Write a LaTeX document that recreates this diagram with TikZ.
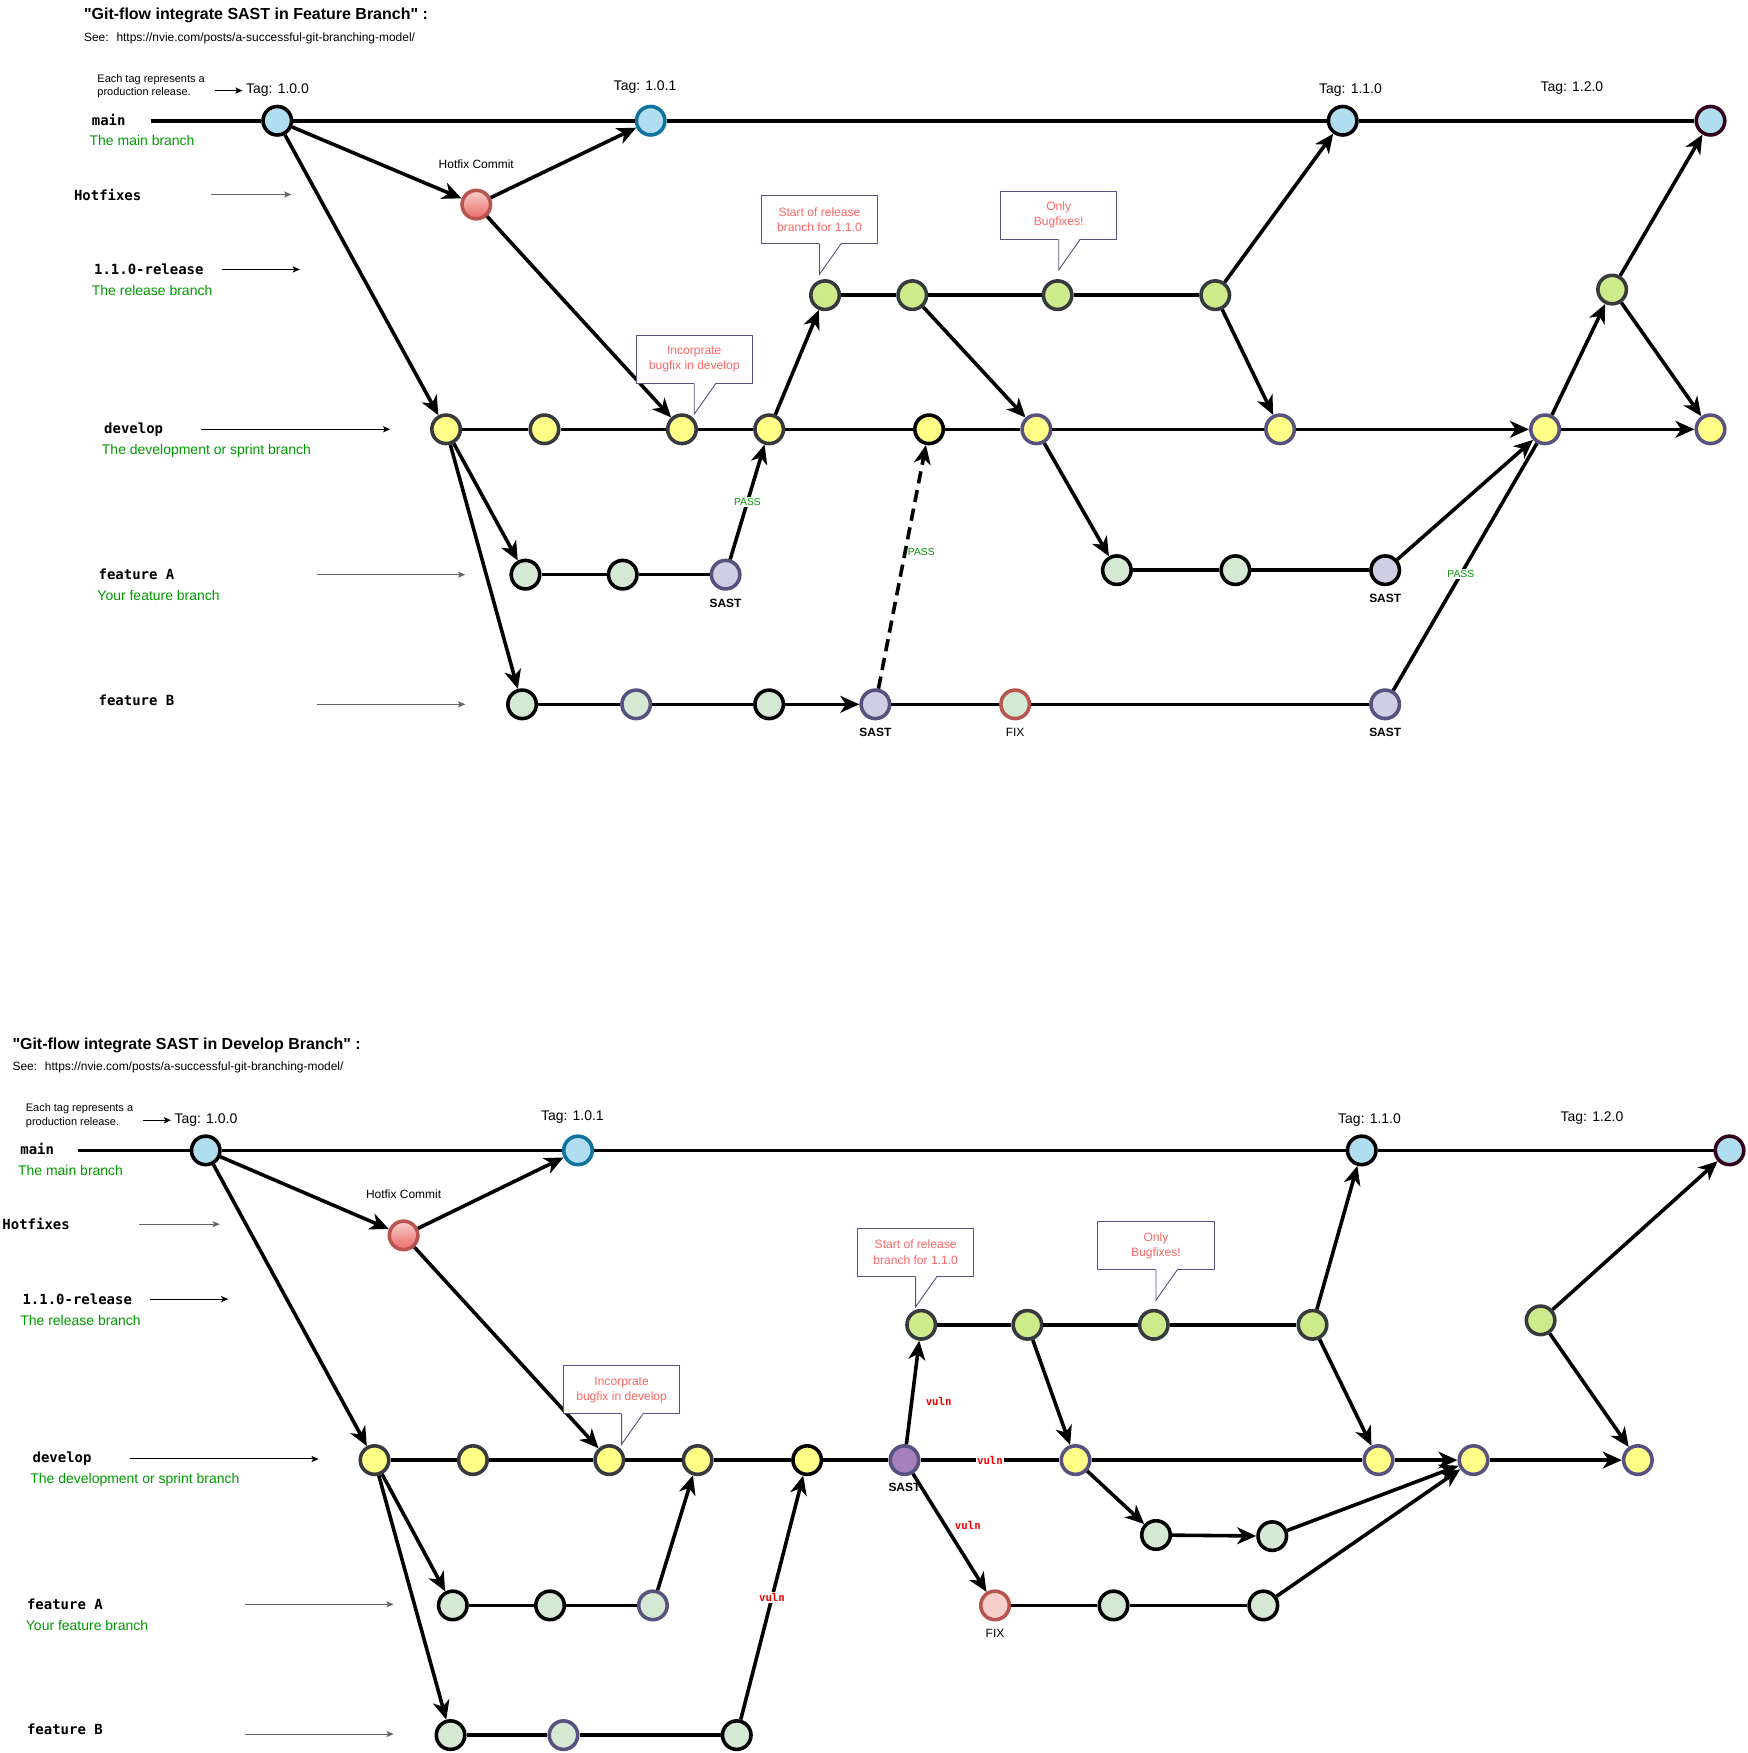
\documentclass[tikz,border=0pt]{standalone}
\usepackage{fontspec}
\setmainfont{Liberation Sans}
\newfontfamily\branchfont{DejaVu Sans Mono}
\usetikzlibrary{arrows.meta,positioning}

\definecolor{tagfill}{HTML}{B1DDF0}
\definecolor{tagblue}{HTML}{10739E}
\definecolor{tagmaroon}{HTML}{33001A}
\definecolor{devfill}{HTML}{FFFF88}
\definecolor{relfill}{HTML}{CDEB8B}
\definecolor{featfill}{HTML}{D5E8D4}
\definecolor{sastfill}{HTML}{D0CEE2}
\definecolor{sastdev}{HTML}{A680B8}
\definecolor{darkline}{HTML}{36393D}
\definecolor{purpline}{HTML}{56517E}
\definecolor{redline}{HTML}{B85450}
\definecolor{hotlight}{HTML}{F8CECC}
\definecolor{hotdark}{HTML}{EA6B66}
\definecolor{notegreen}{HTML}{009900}
\definecolor{callred}{HTML}{FF6666}
\definecolor{pointgrey}{HTML}{666666}

\begin{document}
\begin{tikzpicture}[x=1pt, y=-1pt]
  \useasboundingbox (0,0) rectangle (1563,1568);
  % Define commit, connector and text styles
  \tikzstyle{commit} = [circle, line width=3.2pt, minimum size=25.5pt, inner sep=0pt]
  \tikzstyle{tagc} = [commit, fill=tagfill, draw=black]
  \tikzstyle{hotc} = [commit, draw=redline, top color=hotlight, bottom color=hotdark]
  \tikzstyle{relc} = [commit, fill=relfill, draw=darkline]
  \tikzstyle{devc} = [commit, fill=devfill, draw=darkline]
  \tikzstyle{featc} = [commit, fill=featfill, draw=black]
  \tikzstyle{sastc} = [commit, fill=sastfill, draw=purpline]
  \tikzstyle{commitline} = [line width=3.2pt]
  \tikzstyle{commitflow} = [commitline, -{Stealth[length=17pt, width=15pt, inset=5pt]}]
  \tikzstyle{pointer} = [line width=0.9pt, -{Stealth[length=6.5pt, width=5.5pt, inset=1.5pt]}]
  \tikzstyle{headline} = [anchor=west, inner sep=0pt, font=\bfseries\fontsize{14.3}{17}\selectfont]
  \tikzstyle{seeline} = [anchor=west, inner sep=0pt, font=\fontsize{10.7}{13}\selectfont]
  \tikzstyle{tagnote} = [anchor=west, inner sep=0pt, align=left, font=\fontsize{9.8}{12}\selectfont]
  \tikzstyle{tagtext} = [inner sep=0pt, font=\fontsize{12.5}{15}\selectfont]
  \tikzstyle{branchname} = [anchor=west, inner sep=0pt, font=\branchfont\bfseries\fontsize{12.5}{15}\selectfont]
  \tikzstyle{branchnote} = [anchor=west, inner sep=0pt, text=notegreen, font=\fontsize{12.5}{15}\selectfont]
  \tikzstyle{smalltext} = [inner sep=1pt, font=\fontsize{10.7}{13}\selectfont]
  \tikzstyle{sasttext} = [inner sep=1pt, font=\bfseries\fontsize{10.7}{13}\selectfont]
  \tikzstyle{passtext} = [inner sep=1pt, text=notegreen, font=\fontsize{9.2}{11}\selectfont]
  \tikzstyle{vulntext} = [inner sep=1pt, text=red, font=\branchfont\bfseries\fontsize{9.6}{11}\selectfont]
  \tikzstyle{callbox} = [draw=purpline, line width=0.8pt, fill=white, text=callred, align=center,
  minimum width=104pt, minimum height=43pt, inner sep=0pt, font=\fontsize{10.8}{13.5}\selectfont]
  \tikzstyle{callout} = [draw=purpline, line width=0.8pt]

  % Titles and branch names, the same for both diagrams
  \foreach \dx/\dy/\p/\what in {0/0/t/Feature, -64/921/b/Develop} {
    \begin{scope}[shift={(\dx,\dy)}]
      \node[headline] (\p-head) at (75,14) {\textquotedbl Git-flow integrate SAST in \what\ Branch\textquotedbl\ :};
      \node[seeline] (\p-see) at (75,34) {See:\hspace{7pt}https://nvie.com/posts/a-successful-git-branching-model/};
      \node[tagnote] (\p-tagnote) at (87,77) {Each tag represents a\\production release.};
      \node[tagtext, anchor=west] (\p-tag100) at (220,81) {Tag: 1.0.0};
      \draw[pointer, shorten >=3pt] ([xshift=-28pt]\p-tag100.west) -- (\p-tag100.west);
      \node[branchname] (\p-main) at (82,107) {main};
      \node[branchnote] (\p-mainnote) at (80,126) {The main branch};
      \node[branchname] (\p-hot) at (66,174) {Hotfixes};
      \draw[pointer, pointgrey] ([xshift=62pt]\p-hot.east) -- ++(72,0);
      \node[branchname] (\p-rel) at (84,241) {1.1.0-release};
      \node[branchnote] (\p-relnote) at (82,260) {The release branch};
      \draw[pointer] ([xshift=16pt]\p-rel.east) -- ++(70,0);
      \node[branchname] (\p-dev) at (93,384) {develop};
      \node[branchnote] (\p-devnote) at (91,403) {The development or sprint branch};
      \draw[pointer] ([xshift=34pt]\p-dev.east) -- ++(169,0);
      \node[branchname] (\p-fa) at (88,514) {feature A};
      \node[branchnote] (\p-fanote) at (87,533) {Your feature branch};
      \draw[pointer, pointgrey] ([xshift=127pt]\p-fa.east) -- ++(133,0);
      \node[branchname] (\p-fb) at (88,626) {feature B};
      \draw[pointer, pointgrey] ([xshift=127pt, yshift=-4pt]\p-fb.east) -- ++(133,0);
    \end{scope}
  }

  % Top diagram: SAST in the feature branches
  \node[tagtext] (t-tag101) at (577,78) {Tag: 1.0.1};
  \node[tagtext] (t-tag110) at (1208,81) {Tag: 1.1.0};
  \node[tagtext] (t-tag120) at (1406,79) {Tag: 1.2.0};
  \node[smalltext] (t-hotlab) at (426,147) {Hotfix Commit};

  \coordinate (t-mainstart) at (135,108);
  \node[tagc] (t-M1) at (248,108) {};
  \node[tagc, draw=tagblue] (t-M2) at (582,108) {};
  \node[tagc] (t-M3) at (1201,108) {};
  \node[tagc, draw=tagmaroon] (t-M4) at (1530,108) {};
  \node[hotc] (t-H) at (426,183) {};
  \node[relc] (t-R1) at (738,264) {};
  \node[relc] (t-R2) at (816,264) {};
  \node[relc] (t-R3) at (946,264) {};
  \node[relc] (t-R4) at (1087,264) {};
  \node[relc] (t-R5) at (1442,259) {};
  \node[devc] (t-D1) at (399,384) {};
  \node[devc] (t-D2) at (487,384) {};
  \node[devc] (t-D3) at (610,384) {};
  \node[devc] (t-D4) at (688,384) {};
  \node[devc, draw=black] (t-D5) at (831,384) {};
  \node[devc, draw=purpline] (t-D6) at (927,384) {};
  \node[devc, draw=purpline] (t-D7) at (1145,384) {};
  \node[devc, draw=purpline] (t-D8) at (1382,384) {};
  \node[devc, draw=purpline] (t-D9) at (1530,384) {};
  \node[featc] (t-A1) at (470,514) {};
  \node[featc] (t-A2) at (557,514) {};
  \node[sastc] (t-A3) at (649,514) {};
  \node[featc] (t-A4) at (999,510) {};
  \node[featc] (t-A5) at (1105,510) {};
  \node[sastc, draw=black] (t-A6) at (1239,510) {};
  \node[featc] (t-B1) at (467,630) {};
  \node[featc, draw=purpline] (t-B2) at (569,630) {};
  \node[featc] (t-B3) at (688,630) {};
  \node[sastc] (t-B4) at (783,630) {};
  \node[featc, draw=redline] (t-B5) at (908,630) {};
  \node[sastc] (t-B6) at (1239,630) {};

  \node[sasttext, below=6pt of t-A3] (t-A3lab) {SAST};
  \node[sasttext, below=6pt of t-A6] (t-A6lab) {SAST};
  \node[sasttext, below=6pt of t-B4] (t-B4lab) {SAST};
  \node[smalltext, below=6pt of t-B5] (t-B5lab) {FIX};
  \node[sasttext, below=6pt of t-B6] (t-B6lab) {SAST};

  \draw[commitline] (t-mainstart) -- (t-M1) -- (t-M2) -- (t-M3) -- (t-M4);
  \draw[commitflow] (t-M1) -- (t-H);
  \draw[commitflow] (t-H) -- (t-M2);
  \draw[commitflow] (t-H) -- (t-D3);
  \draw[commitflow] (t-M1) -- (t-D1);
  \draw[commitline] (t-D1) -- (t-D2) -- (t-D3) -- (t-D4) -- (t-D5) -- (t-D6) -- (t-D7);
  \draw[commitflow] (t-D7) -- (t-D8);
  \draw[commitflow] (t-D8) -- (t-D9);
  \draw[commitflow] (t-D1) -- (t-A1);
  \draw[commitline] (t-A1) -- (t-A2) -- (t-A3);
  \draw[commitflow] (t-A3) -- node[passtext, fill=white] (t-pass1) {PASS} (t-D4);
  \draw[commitflow] (t-D1) -- (t-B1);
  \draw[commitline] (t-B1) -- (t-B2) -- (t-B3);
  \draw[commitflow] (t-B3) -- (t-B4);
  \draw[commitline] (t-B4) -- (t-B5) -- (t-B6);
  \draw[commitflow, dash pattern=on 11pt off 6pt] (t-B4) -- node[passtext, anchor=west, pos=0.56] (t-pass2) {PASS} (t-D5);
  \draw[commitline] (t-B6) -- node[passtext, fill=white, pos=0.47] (t-pass3) {PASS} (t-D8);
  \draw[commitflow] (t-D4) -- (t-R1);
  \draw[commitline] (t-R1) -- (t-R2) -- (t-R3) -- (t-R4);
  \draw[commitflow] (t-R2) -- (t-D6);
  \draw[commitflow] (t-R4) -- (t-M3);
  \draw[commitflow] (t-R4) -- (t-D7);
  \draw[commitflow] (t-D6) -- (t-A4);
  \draw[commitline] (t-A4) -- (t-A5) -- (t-A6);
  \draw[commitflow] (t-A6) -- (t-D8);
  \draw[commitflow] (t-D8) -- (t-R5);
  \draw[commitflow] (t-R5) -- (t-M4);
  \draw[commitflow] (t-R5) -- (t-D9);

  \node[callbox] (t-callrel) at (733,196.5) {Start of release\\branch for 1.1.0};
  \node[callbox] (t-callfix) at (947,192.5) {Only\\Bugfixes!};
  \node[callbox] (t-callinc) at (621,321.5) {Incorprate\\bugfix in develop};

  % Bottom diagram: SAST in the develop branch
  \node[tagtext] (b-tag101) at (512,999) {Tag: 1.0.1};
  \node[tagtext] (b-tag110) at (1225,1002) {Tag: 1.1.0};
  \node[tagtext] (b-tag120) at (1424,1000) {Tag: 1.2.0};
  \node[smalltext] (b-hotlab) at (361,1068) {Hotfix Commit};

  \coordinate (b-mainstart) at (70,1029);
  \node[tagc] (b-M1) at (184,1029) {};
  \node[tagc, draw=tagblue] (b-M2) at (517,1029) {};
  \node[tagc] (b-M3) at (1218,1029) {};
  \node[tagc, draw=tagmaroon] (b-M4) at (1547,1029) {};
  \node[hotc] (b-H) at (361,1105) {};
  \node[relc] (b-R1) at (824,1185) {};
  \node[relc] (b-R2) at (919,1185) {};
  \node[relc] (b-R3) at (1032,1185) {};
  \node[relc] (b-R4) at (1174,1185) {};
  \node[relc] (b-R5) at (1378,1181) {};
  \node[devc] (b-D1) at (335,1306) {};
  \node[devc] (b-D2) at (423,1306) {};
  \node[devc] (b-D3) at (545,1306) {};
  \node[devc] (b-D4) at (624,1306) {};
  \node[devc, draw=black] (b-D5) at (722,1306) {};
  \node[commit, fill=sastdev, draw=purpline] (b-S) at (809,1306) {};
  \node[devc, draw=purpline] (b-D6) at (962,1306) {};
  \node[devc, draw=purpline] (b-D7) at (1233,1306) {};
  \node[devc, draw=purpline] (b-D8) at (1318,1306) {};
  \node[devc, draw=purpline] (b-D9) at (1465,1306) {};
  \node[featc] (b-A1) at (405,1436) {};
  \node[featc] (b-A2) at (492,1436) {};
  \node[featc, draw=purpline] (b-A3) at (584,1436) {};
  \node[featc] (b-B1) at (403,1552) {};
  \node[featc, draw=purpline] (b-B2) at (504,1552) {};
  \node[featc] (b-B3) at (659,1552) {};
  \node[featc] (b-C1) at (1034,1373) {};
  \node[featc] (b-C2) at (1138,1374) {};
  \node[commit, fill=hotlight, draw=redline] (b-F1) at (890,1436) {};
  \node[featc] (b-F2) at (996,1436) {};
  \node[featc] (b-F3) at (1130,1436) {};

  \node[sasttext, below=5pt of b-S] (b-Slab) {SAST};
  \node[smalltext, below=6pt of b-F1] (b-F1lab) {FIX};

  \draw[commitline] (b-mainstart) -- (b-M1) -- (b-M2) -- (b-M3) -- (b-M4);
  \draw[commitflow] (b-M1) -- (b-H);
  \draw[commitflow] (b-H) -- (b-M2);
  \draw[commitflow] (b-H) -- (b-D3);
  \draw[commitflow] (b-M1) -- (b-D1);
  \draw[commitline] (b-D1) -- (b-D2) -- (b-D3) -- (b-D4) -- (b-D5) -- (b-S);
  \draw[commitline] (b-S) -- node[vulntext, fill=white] (b-vuln1) {vuln} (b-D6);
  \draw[commitline] (b-D6) -- (b-D7);
  \draw[commitflow] (b-D7) -- (b-D8);
  \draw[commitflow] (b-D8) -- (b-D9);
  \draw[commitflow] (b-D1) -- (b-A1);
  \draw[commitline] (b-A1) -- (b-A2) -- (b-A3);
  \draw[commitflow] (b-A3) -- (b-D4);
  \draw[commitflow] (b-D1) -- (b-B1);
  \draw[commitline] (b-B1) -- (b-B2) -- (b-B3);
  \draw[commitflow] (b-B3) -- node[vulntext, fill=white] (b-vuln2) {vuln} (b-D5);
  \draw[commitflow] (b-S) -- node[vulntext, anchor=west, pos=0.41, xshift=10pt] (b-vuln3) {vuln} (b-R1);
  \draw[commitline] (b-R1) -- (b-R2) -- (b-R3) -- (b-R4);
  \draw[commitflow] (b-R2) -- (b-D6);
  \draw[commitflow] (b-R4) -- (b-M3);
  \draw[commitflow] (b-R4) -- (b-D7);
  \draw[commitflow] (b-D6) -- (b-C1);
  \draw[commitflow] (b-C1) -- (b-C2);
  \draw[commitflow] (b-C2) -- (b-D8);
  \draw[commitflow] (b-S) -- node[vulntext, anchor=west, pos=0.44, xshift=6pt] (b-vuln4) {vuln} (b-F1);
  \draw[commitline] (b-F1) -- (b-F2) -- (b-F3);
  \draw[commitflow] (b-F3) -- (b-D8);
  \draw[commitflow] (b-R5) -- (b-M4);
  \draw[commitflow] (b-R5) -- (b-D9);

  \node[callbox] (b-callrel) at (819,1120) {Start of release\\branch for 1.1.0};
  \node[callbox] (b-callfix) at (1034,1114) {Only\\Bugfixes!};
  \node[callbox] (b-callinc) at (556,1243) {Incorprate\\bugfix in develop};

  % Callout tails
  \foreach \c in {t-callrel, t-callfix, t-callinc, b-callrel, b-callfix, b-callinc} {
    \fill[white] ([yshift=1pt]\c.south) -- ([xshift=19pt, yshift=1pt]\c.south) -- ([yshift=-27pt]\c.south) -- cycle;
    \draw[callout] ([xshift=19pt]\c.south) -- ([yshift=-27pt]\c.south) -- (\c.south);
  }
\end{tikzpicture}
\end{document}
